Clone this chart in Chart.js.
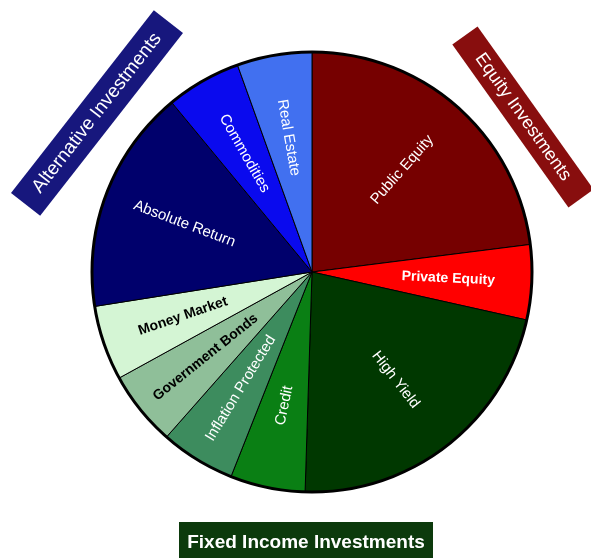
<!DOCTYPE html>
<html>
<head>
<meta charset="utf-8">
<script src="https://cdn.jsdelivr.net/npm/chart.js@4.4.0/dist/chart.umd.min.js"></script>
<style>
  html, body { margin: 0; padding: 0; background: #fff; }
</style>
</head>
<body>
<canvas id="myChart" width="591" height="558"></canvas>
<script>
// slices, clockwise from 12 o'clock
const categories = ['Public Equity', 'Private Equity', 'High Yield', 'Credit', 'Inflation Protected',
  'Government Bonds', 'Money Market', 'Absolute Return', 'Commodities', 'Real Estate'];
const allocation = [23, 5.5, 22, 5.5, 5.5, 5.5, 5.5, 16.5, 5.5, 5.5];

const sliceColors = ['#760000', '#ff0000', '#003800', '#0a7f14', '#3d8c5e',
  '#8fbf99', '#d4f5d4', '#00006c', '#0a0aee', '#4170f0'];
const labelColors = ['#fff', '#fff', '#fff', '#fff', '#fff', '#000', '#000', '#fff', '#fff', '#fff'];
const boldLabels = ['Private Equity', 'Government Bonds', 'Money Market'];

// group banners
const groupLabels = ['Equity Investments', 'Fixed Income Investments', 'Alternative Investments'];
const groupColors = ['#880e0e', '#0c3a0c', '#17177d'];

const sliceLabels = {
  id: 'sliceLabels',
  afterDatasetsDraw(chart) {
    const ctx = chart.ctx;
    const arcs = chart.getDatasetMeta(0).data;
    const c = arcs[0];

    // heavy outer rim
    ctx.save();
    ctx.beginPath();
    ctx.arc(c.x, c.y, c.outerRadius, 0, Math.PI * 2);
    ctx.lineWidth = 3;
    ctx.strokeStyle = '#000';
    ctx.stroke();

    ctx.textAlign = 'center';
    ctx.textBaseline = 'middle';
    arcs.forEach((arc, i) => {
      const mid = (arc.startAngle + arc.endAngle) / 2;
      const r = arc.outerRadius * 0.62;
      let rot = mid;
      if (Math.cos(mid) < -0.01) rot += Math.PI;
      ctx.save();
      ctx.translate(arc.x + Math.cos(mid) * r, arc.y + Math.sin(mid) * r);
      ctx.rotate(rot);
      const bold = boldLabels.includes(categories[i]);
      ctx.font = (bold ? 'bold 14px' : '15px') + ' "Liberation Sans", Arial, sans-serif';
      ctx.fillStyle = labelColors[i];
      ctx.fillText(categories[i], 0, 0);
      ctx.restore();
    });
    ctx.restore();
  },
  afterDraw(chart) {
    const ctx = chart.ctx;
    const banners = [
      { cx: 523, cy: 117, w: 200, h: 31, a: 54.5, font: '18px' },
      { cx: 306, cy: 545, w: 254, h: 46, a: 0, font: 'bold 19px', ty: -2 },
      { cx: 97, cy: 113, w: 232, h: 37, a: -52, font: '19px' }
    ];
    banners.forEach((b, i) => {
      ctx.save();
      ctx.translate(b.cx, b.cy);
      ctx.rotate(b.a * Math.PI / 180);
      ctx.fillStyle = groupColors[i];
      ctx.fillRect(-b.w / 2, -b.h / 2, b.w, b.h);
      ctx.fillStyle = '#fff';
      ctx.font = b.font + ' "Liberation Sans", Arial, sans-serif';
      ctx.textAlign = 'center';
      ctx.textBaseline = 'middle';
      ctx.fillText(groupLabels[i], 0, b.ty || 0);
      ctx.restore();
    });
  }
};

const ctx = document.getElementById('myChart').getContext('2d');
const myChart = new Chart(ctx, {
  type: 'pie',
  data: {
    labels: categories,
    datasets: [{
      data: allocation,
      backgroundColor: sliceColors,
      borderColor: '#000',
      borderWidth: 1
    }]
  },
  options: {
    responsive: false,
    animation: false,
    radius: 220,
    layout: { padding: { left: 92, right: 59, top: 52, bottom: 66 } },
    plugins: {
      legend: { display: false },
      tooltip: { enabled: false }
    }
  },
  plugins: [sliceLabels]
});
</script>
</body>
</html>
